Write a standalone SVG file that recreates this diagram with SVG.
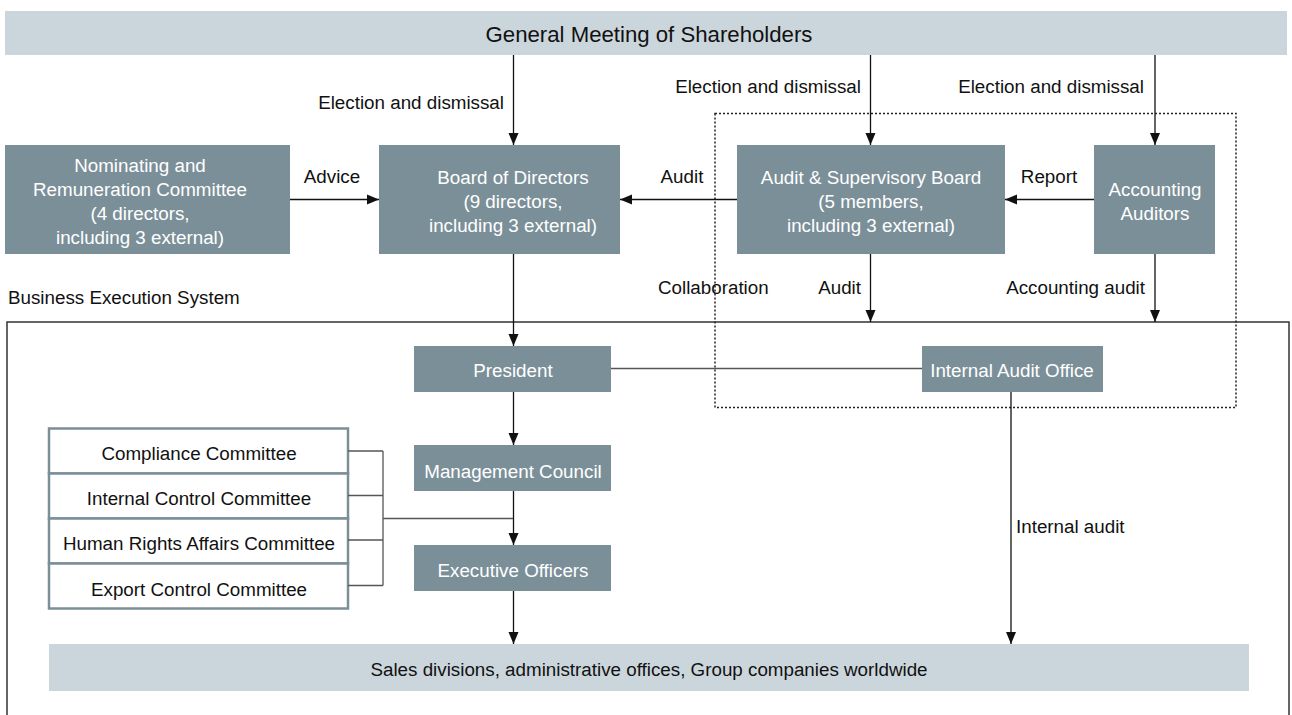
<svg xmlns="http://www.w3.org/2000/svg" width="1292" height="715" viewBox="0 0 1292 715">
<style>
text{font-family:"Liberation Sans",Arial,sans-serif;font-size:18.8px;fill:#111}
.bx{fill:#7b8f99}
.bar{fill:#cbd6dc}
.w{fill:#fff;text-anchor:middle}
.c{text-anchor:middle}
.e{text-anchor:end}
.ln{stroke:#111;stroke-width:1.3;fill:none}
.gl{stroke:#555;stroke-width:1.3;fill:none}
.cm{fill:#fff;stroke:#7b8f99;stroke-width:2.5}
</style>
<defs>
<marker id="ah" markerUnits="userSpaceOnUse" markerWidth="12" markerHeight="12" viewBox="0 0 12 12" refX="12" refY="6" orient="auto">
<path d="M0,1 L12,6 L0,11 Z" fill="#111"/>
</marker>
</defs>
<rect x="7" y="322" width="1282" height="400" fill="none" stroke="#333" stroke-width="1.5"/>
<text x="8" y="304">Business Execution System</text>
<rect x="715" y="113.5" width="521" height="294" fill="none" stroke="#222" stroke-width="1.5" stroke-dasharray="2,2"/>
<g id="gms"><rect class="bar" x="5" y="11" width="1282" height="44"/><text class="c" x="649" y="42" style="font-size:22.2px">General Meeting of Shareholders</text></g>
<g id="nrc"><rect class="bx" x="5" y="145" width="285" height="109"/>
<text class="w" x="140" y="172">Nominating and</text><text class="w" x="140" y="196">Remuneration Committee</text><text class="w" x="140" y="220">(4 directors,</text><text class="w" x="140" y="244">including 3 external)</text></g>
<g id="bod"><rect class="bx" x="379" y="145" width="241" height="109"/>
<text class="w" x="513" y="184">Board of Directors</text><text class="w" x="513" y="208">(9 directors,</text><text class="w" x="513" y="232">including 3 external)</text></g>
<g id="asb"><rect class="bx" x="737" y="145" width="268" height="109"/>
<text class="w" x="871" y="184">Audit &amp; Supervisory Board</text><text class="w" x="871" y="208">(5 members,</text><text class="w" x="871" y="232">including 3 external)</text></g>
<g id="aa"><rect class="bx" x="1094" y="145" width="121" height="109"/>
<text class="w" x="1155" y="196">Accounting</text><text class="w" x="1155" y="220">Auditors</text></g>
<g id="pres"><rect class="bx" x="414" y="346" width="197" height="46"/><text class="w" x="513" y="377">President</text></g>
<g id="iao"><rect class="bx" x="922" y="346" width="181" height="46"/><text class="w" x="1012" y="377">Internal Audit Office</text></g>
<g id="mc"><rect class="bx" x="414" y="445" width="197" height="46"/><text class="w" x="513" y="477.5">Management Council</text></g>
<g id="eo"><rect class="bx" x="414" y="545" width="197" height="46"/><text class="w" x="513" y="577">Executive Officers</text></g>
<g id="committees">
<rect class="cm" x="49" y="428.5" width="299" height="45"/>
<rect class="cm" x="49" y="473.5" width="299" height="45"/>
<rect class="cm" x="49" y="518.5" width="299" height="45"/>
<rect class="cm" x="49" y="563.5" width="299" height="45"/>
<text class="c" x="199" y="460">Compliance Committee</text>
<text class="c" x="199" y="505">Internal Control Committee</text>
<text class="c" x="199" y="550">Human Rights Affairs Committee</text>
<text class="c" x="199" y="595.5">Export Control Committee</text>
</g>
<g id="sales"><rect class="bar" x="49" y="644" width="1200" height="47"/><text class="c" x="649" y="676">Sales divisions, administrative offices, Group companies worldwide</text></g>
<g id="connectors">
<line class="ln" x1="513.5" y1="55" x2="513.5" y2="145" marker-end="url(#ah)"/>
<line class="ln" x1="870.5" y1="55" x2="870.5" y2="145" marker-end="url(#ah)"/>
<line class="ln" x1="1155" y1="55" x2="1155" y2="145" marker-end="url(#ah)"/>
<line class="ln" x1="290" y1="199.5" x2="379" y2="199.5" marker-end="url(#ah)"/>
<line class="ln" x1="737" y1="199.5" x2="620" y2="199.5" marker-end="url(#ah)"/>
<line class="ln" x1="1094" y1="199.5" x2="1005" y2="199.5" marker-end="url(#ah)"/>
<line class="ln" x1="513.5" y1="254" x2="513.5" y2="346" marker-end="url(#ah)"/>
<line class="ln" x1="870.5" y1="254" x2="870.5" y2="322" marker-end="url(#ah)"/>
<line class="ln" x1="1155" y1="254" x2="1155" y2="322" marker-end="url(#ah)"/>
<line class="gl" x1="611" y1="368.5" x2="922" y2="368.5"/>
<line class="ln" x1="513.5" y1="392" x2="513.5" y2="445" marker-end="url(#ah)"/>
<line class="ln" x1="513.5" y1="491" x2="513.5" y2="545" marker-end="url(#ah)"/>
<line class="ln" x1="513.5" y1="591" x2="513.5" y2="644" marker-end="url(#ah)"/>
<line class="ln" x1="1011" y1="392" x2="1011" y2="644" marker-end="url(#ah)"/>
<path class="gl" d="M348,451 H383 M348,495.5 H383 M348,540 H383 M348,585.5 H383 M383,451 V585.5 M383,518.5 H513"/>
<text class="e" x="504" y="109">Election and dismissal</text>
<text class="e" x="861" y="93">Election and dismissal</text>
<text class="e" x="1144" y="93">Election and dismissal</text>
<text class="c" x="332" y="183">Advice</text>
<text class="c" x="682" y="183">Audit</text>
<text class="c" x="1049" y="183">Report</text>
<text x="658" y="294">Collaboration</text>
<text class="e" x="861" y="294">Audit</text>
<text class="e" x="1145" y="294">Accounting audit</text>
<text x="1016" y="533">Internal audit</text>
</g>
</svg>
